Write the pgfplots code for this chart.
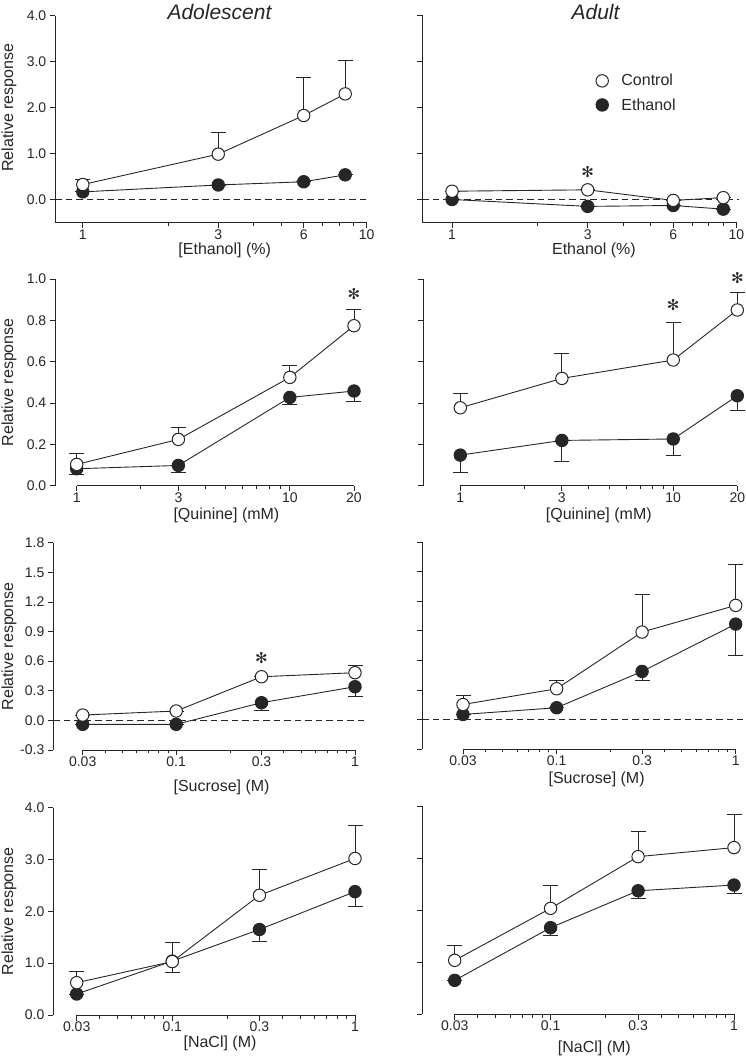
\documentclass[border=0pt]{standalone}
\usepackage{pgfplots}
\pgfplotsset{compat=1.18}
\usepackage{fontspec}
\setmainfont{Liberation Sans}
\newfontfamily\dingfont{DejaVu Sans}

\definecolor{ink}{HTML}{262626}

\pgfplotsset{
  panel/.style={
    scale only axis,
    axis lines*=left,
    axis line style={ink, line width=0.9pt},
    clip=false,
    hide obscured x ticks=false,
    hide obscured y ticks=false,
    tick align=outside,
    major tick length=5.5pt,
    minor tick length=3.5pt,
    every tick/.style={ink, line width=0.8pt},
    tick label style={font=\fontsize{14}{16}\selectfont, text=ink},
    x tick label style={inner sep=1pt, yshift=-0.5pt},
    label style={font=\fontsize{16}{19}\selectfont, text=ink, inner sep=0pt},
    /pgf/number format/assume math mode=true,
    y tick label style={/pgf/number format/fixed, /pgf/number format/fixed zerofill, /pgf/number format/precision=1},
  },
  ctrl/.style={ink, line width=0.9pt, mark=*, mark size=6.2pt,
    mark options={fill=white, draw=ink, line width=1pt},
    error bars/y dir=plus, error bars/y explicit,
    error bars/error bar style={ink, line width=0.9pt},
    error bars/error mark options={rotate=90, mark size=7.5pt, ink, line width=0.9pt}},
  eth/.style={ink, line width=0.9pt, mark=*, mark size=6.2pt,
    mark options={fill=ink, draw=ink, line width=1pt},
    error bars/y dir=minus, error bars/y explicit,
    error bars/error bar style={ink, line width=0.9pt},
    error bars/error mark options={rotate=90, mark size=7.5pt, ink, line width=0.9pt}},
}
\tikzset{
  zeroline/.style={ink, line width=0.8pt, dash pattern=on 6.5pt off 4pt},
  star/.style={font=\dingfont\fontsize{15}{15}\selectfont, text=ink, inner sep=0pt},
}

\begin{document}
\begin{tikzpicture}[x=1pt,y=1pt]
\useasboundingbox (0,0) rectangle (746,1058);
\node[font=\fontsize{21}{24}\selectfont\itshape, text=ink] at (219.5,1046) {Adolescent};
\node[font=\fontsize{21}{24}\selectfont\itshape, text=ink] at (595.5,1046) {Adult};

% ---- Row 1: ethanol ----
\begin{semilogxaxis}[panel, at={(55.3pt,835.3pt)}, anchor=south west,
  width=311.4pt, height=207pt,
  xmin=0.8, xmax=10, ymin=-0.5, ymax=4,
  xtick={1,3,6,10}, xticklabels={1,3,6,10}, minor xtick={2,4,5,7,8,9},
  ytick={0,1,2,3,4},
  xlabel={[Ethanol] (\%)}, ylabel={Relative response},
  xlabel style={at={([yshift=-27.3pt]axis description cs:0.544,0)}, anchor=center},
  ylabel style={at={([xshift=-46.3pt]axis description cs:0,0.556)}, anchor=center}]
\draw[zeroline] (axis cs:0.8,0) -- (axis cs:10,0);
\addplot[eth] coordinates {(1,0.17) +- (0,0) (3,0.32) +- (0,0) (6,0.39) +- (0,0) (8.4,0.54) +- (0,0)};
\addplot[ctrl] coordinates {(1,0.33) +- (0,0.12) (3,0.99) +- (0,0.47) (6,1.83) +- (0,0.82) (8.4,2.30) +- (0,0.72)};
\end{semilogxaxis}

\begin{semilogxaxis}[panel, at={(422pt,835.5pt)}, anchor=south west,
  width=314.3pt, height=207pt,
  xmin=0.784, xmax=10, ymin=-0.5, ymax=4,
  xtick={1,3,6,10}, xticklabels={1,3,6,10}, minor xtick={2,4,5,7,8,9},
  ytick={0,1,2,3,4}, yticklabels={},
  xlabel={Ethanol (\%)},
  xlabel style={at={([yshift=-27.5pt]axis description cs:0.547,0)}, anchor=center},
  legend style={draw=none, fill=none, at={(axis description cs:0.553,0.626)}, anchor=west,
    inner sep=0pt, row sep=7pt, font=\fontsize{16}{19}\selectfont, text=ink,
    /tikz/every odd column/.append style={column sep=11pt}},
  legend cell align=left,
  legend image code/.code={\draw[#1] plot coordinates {(7pt,0pt)};}]
\draw[zeroline] (axis cs:0.784,0) -- (axis cs:10.2,0);
\addplot[forget plot, eth] coordinates {(1,0.0) +- (0,0) (3,-0.15) +- (0,0) (6,-0.13) +- (0,0) (9,-0.21) +- (0,0)};
\addplot[forget plot, ctrl] coordinates {(1,0.18) +- (0,0) (3,0.21) +- (0,0) (6,-0.02) +- (0,0) (9,0.04) +- (0,0)};
\node[star] at (axis cs:3,0.6) {✻};
\addlegendimage{only marks, mark=*, mark size=6.2pt, mark options={fill=white, draw=ink, line width=1pt}}
\addlegendentry{Control}
\addlegendimage{only marks, mark=*, mark size=6.2pt, mark options={fill=ink, draw=ink, line width=1pt}}
\addlegendentry{Ethanol}
\end{semilogxaxis}

% ---- Row 2: quinine ----
\begin{semilogxaxis}[panel, at={(76.7pt,572.3pt)}, anchor=south west,
  width=277.3pt, height=206.7pt, axis y line shift=21.4pt,
  xmin=1, xmax=20, ymin=0, ymax=1,
  xtick={1,3,10,20}, xticklabels={1,3,10,20}, minor xtick={2,4,5,6,7,8,9},
  ytick={0,0.2,0.4,0.6,0.8,1.0},
  xlabel={[Quinine] (mM)}, ylabel={Relative response},
  xlabel style={at={([yshift=-29.2pt]axis description cs:0.54,0)}, anchor=center},
  ylabel style={at={([xshift=-67.7pt]axis description cs:0,0.5)}, anchor=center}]
\addplot[eth] coordinates {(1,0.082) +- (0,0.030) (3,0.098) +- (0,0.033) (10,0.427) +- (0,0.033) (20,0.458) +- (0,0.052)};
\addplot[ctrl] coordinates {(1,0.103) +- (0,0.052) (3,0.224) +- (0,0.057) (10,0.524) +- (0,0.060) (20,0.774) +- (0,0.081)};
\node[star] at (axis cs:20,0.926) {✻};
\end{semilogxaxis}

\begin{semilogxaxis}[panel, at={(460.3pt,572.3pt)}, anchor=south west,
  width=277pt, height=206.7pt, axis y line shift=37.3pt,
  xmin=1, xmax=20, ymin=0, ymax=1,
  xtick={1,3,10,20}, xticklabels={1,3,10,20}, minor xtick={2,4,5,6,7,8,9},
  ytick={0,0.2,0.4,0.6,0.8,1.0}, yticklabels={},
  xlabel={[Quinine] (mM)},
  xlabel style={at={([yshift=-29.2pt]axis description cs:0.5,0)}, anchor=center}]
\addplot[eth] coordinates {(1,0.148) +- (0,0.083) (3,0.219) +- (0,0.100) (10,0.226) +- (0,0.082) (20,0.435) +- (0,0.069)};
\addplot[ctrl] coordinates {(1,0.377) +- (0,0.071) (3,0.519) +- (0,0.121) (10,0.608) +- (0,0.182) (20,0.850) +- (0,0.085)};
\node[star] at (axis cs:10,0.874) {✻};
\node[star] at (axis cs:20,1.003) {✻};
\end{semilogxaxis}

% ---- Row 3: sucrose ----
\begin{semilogxaxis}[panel, at={(82.7pt,308pt)}, anchor=south west,
  width=272.3pt, height=207.3pt, axis y line shift=29.4pt,
  xmin=0.03, xmax=1, ymin=-0.3, ymax=1.8,
  xtick={0.03,0.1,0.3,1}, xticklabels={0.03,0.1,0.3,1},
  minor xtick={0.04,0.05,0.06,0.07,0.08,0.09,0.2,0.4,0.5,0.6,0.7,0.8,0.9},
  ytick={-0.3,0,0.3,0.6,0.9,1.2,1.5,1.8},
  xlabel={[Sucrose] (M)}, ylabel={Relative response},
  xlabel style={at={([yshift=-37pt]axis description cs:0.51,0)}, anchor=center},
  ylabel style={at={([xshift=-73.7pt]axis description cs:0,0.5)}, anchor=center}]
\draw[zeroline] ([xshift=-29.4pt]axis cs:0.03,0) -- ([xshift=11.7pt]axis cs:1,0);
\addplot[eth] coordinates {(0.03,-0.04) +- (0,0) (0.1,-0.04) +- (0,0) (0.3,0.179) +- (0,0.074) (1,0.341) +- (0,0.101)};
\addplot[ctrl] coordinates {(0.03,0.054) +- (0,0) (0.1,0.095) +- (0,0) (0.3,0.442) +- (0,0) (1,0.483) +- (0,0.074)};
\node[star] at (axis cs:0.3,0.628) {✻};
\end{semilogxaxis}

\begin{semilogxaxis}[panel, at={(463pt,309pt)}, anchor=south west,
  width=272.7pt, height=206.7pt, axis y line shift=40.7pt,
  xmin=0.03, xmax=1, ymin=-0.3, ymax=1.8,
  xtick={0.03,0.1,0.3,1}, xticklabels={0.03,0.1,0.3,1},
  minor xtick={0.04,0.05,0.06,0.07,0.08,0.09,0.2,0.4,0.5,0.6,0.7,0.8,0.9},
  ytick={-0.3,0,0.3,0.6,0.9,1.2,1.5,1.8}, yticklabels={},
  xlabel={[Sucrose] (M)},
  xlabel style={at={([yshift=-30.8pt]axis description cs:0.49,0)}, anchor=center}]
\draw[zeroline] ([xshift=-40.7pt]axis cs:0.03,0) -- ([xshift=7.3pt]axis cs:1,0);
\addplot[eth] coordinates {(0.03,0.051) +- (0,0) (0.1,0.119) +- (0,0) (0.3,0.488) +- (0,0.088) (1,0.969) +- (0,0.319)};
\addplot[ctrl] coordinates {(0.03,0.152) +- (0,0.092) (0.1,0.312) +- (0,0.081) (0.3,0.888) +- (0,0.382) (1,1.159) +- (0,0.416)};
\end{semilogxaxis}

% ---- Row 4: NaCl ----
\begin{semilogxaxis}[panel, at={(76.7pt,43pt)}, anchor=south west,
  width=278.3pt, height=207.3pt, axis y line shift=23.4pt,
  xmin=0.03, xmax=1, ymin=0, ymax=4,
  xtick={0.03,0.1,0.3,1}, xticklabels={0.03,0.1,0.3,1},
  minor xtick={0.04,0.05,0.06,0.07,0.08,0.09,0.2,0.4,0.5,0.6,0.7,0.8,0.9},
  ytick={0,1,2,3,4},
  xlabel={[NaCl] (M)}, ylabel={Relative response},
  xlabel style={at={([yshift=-28.2pt]axis description cs:0.515,0)}, anchor=center},
  ylabel style={at={([xshift=-67.7pt]axis description cs:0,0.5)}, anchor=center}]
\addplot[eth] coordinates {(0.03,0.405) +- (0,0) (0.1,1.04) +- (0,0.217) (0.3,1.65) +- (0,0.235) (1,2.38) +- (0,0.29)};
\addplot[ctrl] coordinates {(0.03,0.624) +- (0,0.212) (0.1,1.03) +- (0,0.37) (0.3,2.31) +- (0,0.49) (1,3.02) +- (0,0.63)};
\end{semilogxaxis}

\begin{semilogxaxis}[panel, at={(454.7pt,44pt)}, anchor=south west,
  width=279.3pt, height=208pt, axis y line shift=32.4pt,
  xmin=0.03, xmax=1, ymin=0, ymax=4,
  xtick={0.03,0.1,0.3,1}, xticklabels={0.03,0.1,0.3,1},
  minor xtick={0.04,0.05,0.06,0.07,0.08,0.09,0.2,0.4,0.5,0.6,0.7,0.8,0.9},
  ytick={0,1,2,3,4}, yticklabels={},
  xlabel={[NaCl] (M)},
  xlabel style={at={([yshift=-34pt]axis description cs:0.5,0)}, anchor=center}]
\addplot[eth] coordinates {(0.03,0.647) +- (0,0) (0.1,1.66) +- (0,0.14) (0.3,2.37) +- (0,0.15) (1,2.48) +- (0,0.16)};
\addplot[ctrl] coordinates {(0.03,1.032) +- (0,0.282) (0.1,2.032) +- (0,0.448) (0.3,3.026) +- (0,0.494) (1,3.20) +- (0,0.63)};
\end{semilogxaxis}
\end{tikzpicture}
\end{document}
